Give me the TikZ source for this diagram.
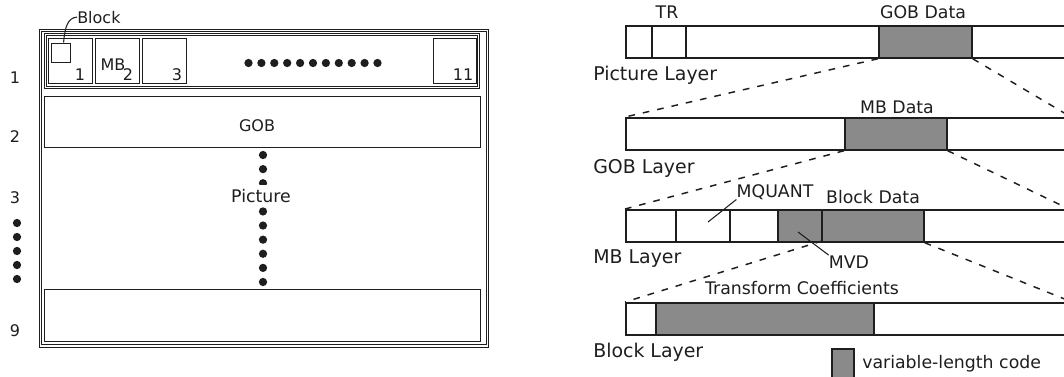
\documentclass[tikz,border=0pt]{standalone}
\usepackage{fontspec}
\setmainfont{DejaVu Sans}
\definecolor{vlcgray}{RGB}{138,138,138}
\definecolor{ink}{RGB}{30,30,30}
\begin{document}
\begin{tikzpicture}[x=0.75pt,y=-0.75pt,
  dbl/.style={draw=ink, line width=0.7pt, double=white, double distance=1.2pt},
  row/.style={draw=ink, line width=1.1pt},
  cell/.style={draw=ink, line width=0.9pt},
  bar/.style={draw=ink, line width=1.3pt, rectangle, inner sep=0pt, anchor=north west,
              minimum height=32*0.75pt},
  vlcbox/.style={bar, fill=vlcgray},
  divider/.style={draw=ink, line width=1.1pt},
  zoomline/.style={draw=ink, line width=1.1pt, dash pattern=on 5pt off 6pt},
  leader/.style={draw=ink, line width=0.8pt},
  dot/.style={circle, fill=ink, inner sep=0pt, minimum size=6.2pt},
  lbl/.style={inner sep=0pt, anchor=base, text=ink, font=\fontsize{13}{15}\selectfont},
  small/.style={lbl, font=\fontsize{12}{14}\selectfont},
  layer/.style={inner sep=0pt, anchor=base west, text=ink, font=\fontsize{14.2}{17}\selectfont}]

\useasboundingbox (0,0) rectangle (1064,376);
\clip (0,0) rectangle (1064,376);

% ---------------- picture made of GOBs ----------------
\draw[dbl] (40.5,30.5) rectangle (487.5,346);
\draw[dbl] (45.5,34.5) rectangle (478.5,87.5);

% macroblocks of the first GOB
\node[cell, rectangle, inner sep=0pt, anchor=north west, minimum width=44*0.75pt, minimum height=45*0.75pt] (mb1) at (47.5,38) {};
\node[cell, rectangle, inner sep=0pt, anchor=north west, minimum width=44*0.75pt, minimum height=45*0.75pt] (mb2) at (94.5,38) {};
\node[cell, rectangle, inner sep=0pt, anchor=north west, minimum width=44*0.75pt, minimum height=45*0.75pt] (mb3) at (141.5,38) {};
\node[cell, rectangle, inner sep=0pt, anchor=north west, minimum width=43*0.75pt, minimum height=45*0.75pt] (mb11) at (432.5,38) {};
\node[cell, rectangle, inner sep=0pt, anchor=north west, minimum width=19*0.75pt, minimum height=19*0.75pt] (blk) at (50.5,42.5) {};

\node[small] (n1) at (80,80) {1};
\node[small] (mbtxt) at (113,70) {MB};
\node[small] (n2) at (128,80) {2};
\node[small] (n3) at (177,80) {3};
\node[small] (n11) at (463,80) {11};

\node[small, anchor=base west] (blocklbl) at (77,23) {Block};
\draw[leader] (blk.north) ++(3,0) coordinate (blktop)
  .. controls (65,26) and (68,18) .. (blocklbl.west);

\foreach \i in {0,...,10}
  \node[dot] (hd\i) at (248.5+12.9*\i,63) {};

% second GOB and the last GOB
\node[row, rectangle, inner sep=0pt, anchor=north west, minimum width=436*0.75pt, minimum height=51*0.75pt] (gob2) at (44,96) {};
\node[small] (gobtxt) at (257,131) {GOB};
\node[row, rectangle, inner sep=0pt, anchor=north west, minimum width=436*0.75pt, minimum height=52*0.75pt] (gob9) at (44,289) {};

\foreach \i in {0,...,9}
  \node[dot] (vd\i) at (263,155+14.11*\i) {};
\node[lbl, fill=white, inner xsep=2pt, inner ysep=3.2pt] (pictxt) at (261,202) {Picture};

% GOB numbers
\node[small] (r1) at (15,83) {1};
\node[small] (r2) at (15,142) {2};
\node[small] (r3) at (15,203) {3};
\node[small] (r9) at (15,336) {9};
\foreach \i in {0,...,4}
  \node[dot] (ld\i) at (17,223+14*\i) {};

% ---------------- layered bitstream ----------------
% picture layer
\node[bar, minimum width=460*0.75pt] (picbar) at (625,25) {};
\node[vlcbox, minimum width=93*0.75pt] (gobdata) at (878,25) {};
\draw[divider] (652,25) -- (652,57);
\draw[divider] (686,25) -- (686,57);
\node[lbl] (trtxt) at (667,18) {TR};
\node[lbl] (gobdatatxt) at (923,18) {GOB Data};
\node[layer] (piclayer) at (593,80) {Picture Layer};

% GOB layer
\node[bar, minimum width=460*0.75pt] (gobbar) at (625,117) {};
\node[vlcbox, minimum width=102*0.75pt] (mbdata) at (844,117) {};
\node[lbl] (mbdatatxt) at (897,113) {MB Data};
\node[layer] (goblayer) at (593,173) {GOB Layer};

% MB layer
\node[bar, minimum width=460*0.75pt] (mbbar) at (625,209) {};
\node[vlcbox, minimum width=146*0.75pt] (mvd) at (777,209) {};
\draw[divider] (676,209) -- (676,241);
\draw[divider] (730,209) -- (730,241);
\draw[divider] (822,209) -- (822,241);
\coordinate (blockdata) at (822,241);
\node[lbl] (mquanttxt) at (775,197) {MQUANT};
\node[lbl] (blockdatatxt) at (873,203) {Block Data};
\node[lbl] (mvdtxt) at (849,268) {MVD};
\draw[leader] (708,222) -- (mquanttxt.south west);
\draw[leader] (798,232) -- (mvdtxt.north west);
\node[layer] (mblayer) at (593,263) {MB Layer};

% block layer
\node[bar, minimum width=460*0.75pt] (blkbar) at (625,302) {};
\node[vlcbox, minimum width=218*0.75pt] (tcoef) at (655,302) {};
\node[lbl] (tcoeftxt) at (802,294) {Transform Coefficients};
\node[layer] (blklayer) at (593,357) {Block Layer};

% zoom lines between the layers
\coordinate (picR) at (1071,117);
\coordinate (gobR) at (1069,209);
\coordinate (mbR) at (1072,302);
\draw[zoomline] (gobdata.south west) -- (gobbar.north west);
\draw[zoomline] (gobdata.south east) -- (picR);
\draw[zoomline] (mbdata.south west) -- (mbbar.north west);
\draw[zoomline] (mbdata.south east) -- (gobR);
\draw[zoomline] (blockdata) -- (blkbar.north west);
\draw[zoomline] (mvd.south east) -- (mbR);

% legend
\node[vlcbox, minimum width=22*0.75pt, minimum height=34*0.75pt] (legbox) at (831,348) {};
\node[lbl, anchor=base west] (legtxt) at (862,368) {variable-length code};
\end{tikzpicture}
\end{document}
